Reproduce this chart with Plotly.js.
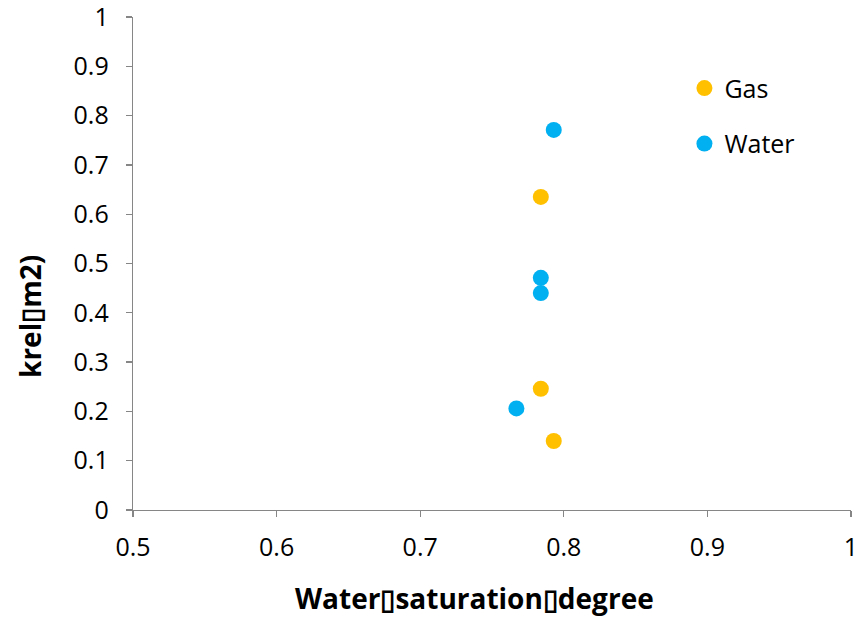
<!DOCTYPE html>
<html><head><meta charset="utf-8">
<script src="https://cdn.plot.ly/plotly-3.0.1.min.js"></script>
<style>html,body{margin:0;padding:0;background:#fff}</style>
</head><body>
<div id="chart" style="width:861px;height:620px"></div>
<script>
const gasX = [0.793, 0.784, 0.784];
const gasY = [0.140, 0.635, 0.246];
const waterX = [0.793, 0.784, 0.784, 0.767];
const waterY = [0.771, 0.471, 0.440, 0.206];
const tickVals = [0.5, 0.6, 0.7, 0.8, 0.9, 1];
const tickText = ['0.5', '0.6', '0.7', '0.8', '0.9', '1'];
const yTickVals = [0, 0.1, 0.2, 0.3, 0.4, 0.5, 0.6, 0.7, 0.8, 0.9, 1];
const yTickText = ['0', '0.1', '0.2', '0.3', '0.4', '0.5', '0.6', '0.7', '0.8', '0.9', '1'];
const xTitle = 'Water\u25AFsaturation\u25AFdegree';
const yTitle = 'krel\u25AFm2)';

const font = '"Open Sans", Lato, sans-serif';
const traces = [
  {x: gasX, y: gasY, name: 'Gas', mode: 'markers', type: 'scatter', legendgroup: 'g',
   marker: {color: '#FFC000', size: 16}},
  {x: waterX, y: waterY, name: 'Water', mode: 'markers', type: 'scatter', legendgroup: 'w',
   marker: {color: '#00B0F0', size: 16}}
];
const axisCommon = {
  showgrid: false, zeroline: false, showline: true, linecolor: '#868686', linewidth: 1.3,
  ticks: 'outside', ticklen: 6, tickcolor: '#868686', tickwidth: 1.3,
  ticklabeloverflow: 'allow',
  tickfont: {family: font, size: 25, color: '#000'}
};
const layout = {
  width: 861, height: 620,
  margin: {l: 133, r: 10, t: 17, b: 110},
  paper_bgcolor: '#fff', plot_bgcolor: '#fff',
  showlegend: true,
  legend: {x: 0.768, y: 0.902, xanchor: 'left', yanchor: 'top', traceorder: 'grouped',
           tracegroupgap: 20, font: {family: font, size: 25, color: '#000'},
           itemwidth: 30, bgcolor: 'rgba(0,0,0,0)'},
  xaxis: Object.assign({}, axisCommon, {
    range: [0.5, 1], tickvals: tickVals, ticktext: tickText, ticklabelstandoff: 9
  }),
  yaxis: Object.assign({}, axisCommon, {
    range: [0, 1], tickvals: yTickVals, ticktext: yTickText, ticklabelstandoff: 12
  }),
  annotations: [
    {text: xTitle, xref: 'paper', yref: 'paper', x: 0.476, y: -0.1785, xanchor: 'center', yanchor: 'middle',
     showarrow: false, font: {family: font, size: 28, color: '#000', weight: 'bold'}},
    {text: yTitle, xref: 'paper', yref: 'paper', x: -0.1435, y: 0.3935, xanchor: 'center', yanchor: 'middle',
     textangle: -90, showarrow: false, font: {family: font, size: 28, color: '#000', weight: 'bold'}}
  ]
};
Plotly.newPlot('chart', traces, layout, {displayModeBar: false, staticPlot: true});
</script>
</body></html>
